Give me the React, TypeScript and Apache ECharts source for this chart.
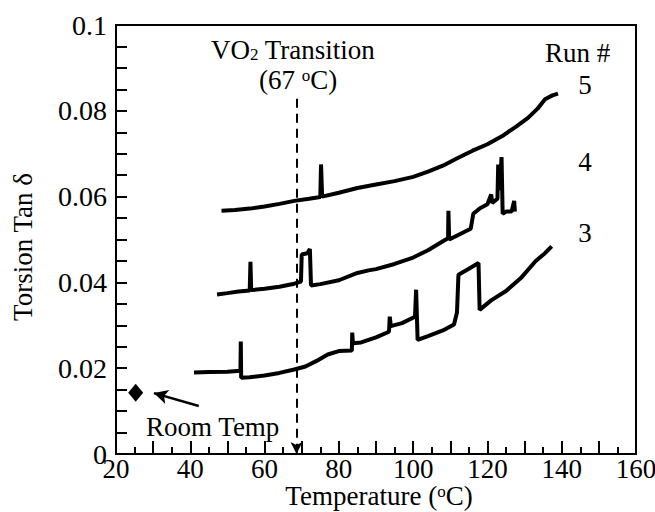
import React, { useEffect, useRef } from 'react';
import * as echarts from 'echarts';

// Temperature (°C), Torsion Tan δ
const run3: [number, number][] = [
  [41.0, 0.0190], [45, 0.0191], [50, 0.0192], [53.5, 0.0194], [53.6, 0.0262], [53.7, 0.0178],
  [56, 0.0179], [60, 0.0183], [64, 0.0189], [68, 0.0197], [71, 0.0204], [74, 0.0217],
  [77, 0.0232], [80, 0.0240], [83.5, 0.0241], [83.6, 0.0283], [83.8, 0.0258], [86, 0.0260],
  [90, 0.0272], [93.5, 0.0285], [93.7, 0.0320], [94, 0.0298], [97, 0.0305], [100.5, 0.0320],
  [100.8, 0.0383], [101.2, 0.0266], [104, 0.0275], [108, 0.0288], [111, 0.0302], [111.8, 0.0330],
  [112.2, 0.0418], [115, 0.0432], [117.6, 0.0445], [117.9, 0.0336], [121, 0.0358], [125, 0.0380],
  [129, 0.0410], [133, 0.0450], [135.5, 0.0468], [137.3, 0.0484],
];

const run4: [number, number][] = [
  [47.2, 0.0372], [50, 0.0375], [53, 0.0379], [56, 0.0381], [56.2, 0.0448], [56.4, 0.0382],
  [60, 0.0385], [64, 0.0390], [68, 0.0397], [69.8, 0.0402], [70, 0.0465], [71.5, 0.0468],
  [72.2, 0.0478], [72.5, 0.0393], [75, 0.0396], [80, 0.0405], [85, 0.0422], [88, 0.0428],
  [90, 0.0431], [95, 0.0443], [100, 0.0458], [104, 0.0475], [108, 0.0496], [109.4, 0.0503],
  [109.5, 0.0567], [109.7, 0.0500], [112, 0.0510], [115.5, 0.0525], [116.2, 0.0560], [118, 0.0573],
  [120, 0.0582], [121, 0.0605], [121.3, 0.0585], [122.7, 0.0595], [122.9, 0.0675], [123.3, 0.0615],
  [123.8, 0.0692], [124.1, 0.0560], [125, 0.0565], [126.5, 0.0565], [127.2, 0.0590], [127.4, 0.0565],
];

const run5: [number, number][] = [
  [48.4, 0.0567], [52, 0.0569], [56, 0.0572], [60, 0.0577], [64, 0.0583], [68, 0.0590],
  [72, 0.0595], [75, 0.0599], [75.2, 0.0675], [75.5, 0.0600], [80, 0.0609], [85, 0.0620],
  [90, 0.0628], [95, 0.0636], [100, 0.0646], [104, 0.0658], [108, 0.0672], [112, 0.0690],
  [116, 0.0707], [120, 0.0722], [124, 0.0741], [128, 0.0765], [131, 0.0784], [133.5, 0.0805],
  [135.5, 0.0827], [137.5, 0.0836], [139, 0.0840],
];

const roomTemp: [number, number][] = [[25.3, 0.0143]];
const transitionLine: [number, number][] = [[68.6, 0.0828], [68.6, 0]];
const roomArrow: [number, number][] = [[42.3, 0.0112], [30.2, 0.0142]];

const FONT = '"Liberation Serif", "Times New Roman", serif';
const FS = 27;

export default function App() {
  const ref = useRef<HTMLDivElement>(null);
  useEffect(() => {
    document.body.style.margin = '0';
    const chart = echarts.init(ref.current!, null, { renderer: 'svg' });
    const txt = (x: number, y: number, text: string, align = 'left', rotation = 0) => ({
      type: 'text',
      x,
      y,
      rotation,
      style: {
        text,
        fill: '#000',
        fontFamily: FONT,
        fontSize: FS,
        align,
        verticalAlign: 'middle',
        rich: {
          sub: { fontFamily: FONT, fontSize: 17, verticalAlign: 'bottom', lineHeight: 12, fill: '#000' },
          sup: { fontFamily: FONT, fontSize: 17, verticalAlign: 'top', lineHeight: 8, fill: '#000' },
          n: { fontFamily: FONT, fontSize: FS, lineHeight: 26, fill: '#000' },
        },
      },
    });
    const lineSeries = (name: string, data: [number, number][]) => ({
      name,
      type: 'line',
      data,
      showSymbol: false,
      lineStyle: { color: '#000', width: 4 },
      z: 3,
    });
    chart.setOption({
      animation: false,
      backgroundColor: '#fff',
      grid: {
        left: 116, right: 19, top: 25, bottom: 58,
        outerBoundsMode: 'none', containLabel: false,
        show: true, borderColor: '#000', borderWidth: 2,
      },
      xAxis: {
        type: 'value',
        min: 20,
        max: 160,
        interval: 10,
        axisLine: { show: true, lineStyle: { color: '#000', width: 2 } },
        axisTick: { show: true, inside: true, length: 13, lineStyle: { color: '#000', width: 2 } },
        minorTick: { show: true, splitNumber: 2, length: 7, lineStyle: { color: '#000', width: 2 } },
        splitLine: { show: false },
        axisLabel: {
          formatter: (v: number) => (v % 20 === 0 ? String(v) : ''),
          color: '#000',
          fontFamily: FONT,
          fontSize: 27,
          margin: 1,
        },
      },
      yAxis: {
        type: 'value',
        min: 0,
        max: 0.1,
        interval: 0.02,
        axisLine: { show: true, lineStyle: { color: '#000', width: 2 } },
        axisTick: { show: true, inside: true, length: 11, lineStyle: { color: '#000', width: 2 } },
        minorTick: { show: true, splitNumber: 4, length: 11, lineStyle: { color: '#000', width: 2 } },
        splitLine: { show: false },
        axisLabel: {
          formatter: (v: number) => String(+v.toFixed(3)),
          color: '#000',
          fontFamily: FONT,
          fontSize: 28,
          margin: 9,
        },
      },
      series: [
        lineSeries('Run 3', run3),
        lineSeries('Run 4', run4),
        lineSeries('Run 5', run5),
        {
          name: 'Room Temp',
          type: 'scatter',
          data: roomTemp,
          symbol: 'diamond',
          symbolSize: [15, 18],
          itemStyle: { color: '#000', opacity: 1 },
          z: 4,
          markLine: {
            silent: true,
            animation: false,
            label: { show: false },
            data: [
              [
                { coord: transitionLine[0], symbol: 'none', lineStyle: { color: '#000', width: 2, type: [9, 6] } },
                { coord: transitionLine[1], symbol: 'arrow', symbolSize: [9, 12] },
              ],
              [
                { coord: roomArrow[0], symbol: 'none', lineStyle: { color: '#000', width: 2.5, type: 'solid' } },
                { coord: roomArrow[1], symbol: 'arrow', symbolSize: [11, 14] },
              ],
            ],
          },
        },
      ],
      graphic: [
        txt(23, 247, 'Torsion Tan δ', 'center', Math.PI / 2),
        txt(379, 496, '{n|Temperature (}{sup|o}{n|C)}', 'center'),
        txt(211, 50, '{n|VO}{sub|2}{n| Transition}'),
        txt(259, 80, '{n|(67 }{sup|o}{n|C)}'),
        txt(545, 53, 'Run #'),
        txt(585, 85, '5', 'center'),
        txt(585, 162, '4', 'center'),
        txt(585, 233, '3', 'center'),
        txt(146, 427, 'Room Temp'),
      ],
    });
    return () => chart.dispose();
  }, []);
  return <div ref={ref} style={{ width: 655, height: 512 }} />;
}
